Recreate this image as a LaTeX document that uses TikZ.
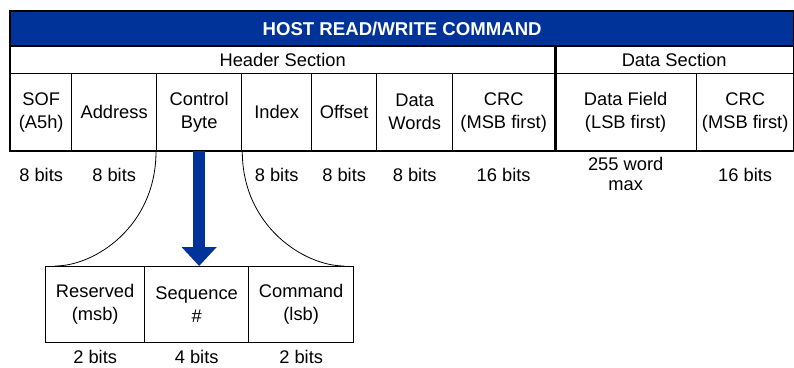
\documentclass[tikz,border=0pt]{standalone}
\usepackage{fontspec}
\setmainfont{Liberation Sans}
\usetikzlibrary{arrows.meta}
\definecolor{hblue}{HTML}{003399}
\begin{document}
\begin{tikzpicture}[x=1pt,y=-1pt,
  cell/.style={draw, line width=1.3pt, inner sep=0pt, align=center,
    font=\fontsize{18.3}{23}\selectfont, anchor=north west},
  bits/.style={inner sep=0pt, align=center, font=\fontsize{18.3}{20}\selectfont},
  curve/.style={line width=0.8pt}]
\useasboundingbox (0,0) rectangle (794,367);
% title
\node[cell, fill=hblue, text=white, font=\bfseries\fontsize{18.6}{20}\selectfont,
  minimum width=783pt, minimum height=34pt] (title) at (10,11) {HOST READ/WRITE COMMAND};
% sections
\node[cell, minimum width=544pt, minimum height=28pt] (hdr) at (10,45) {Header Section};
\node[cell, minimum width=239pt, minimum height=28pt] (dat) at (554,45) {Data Section};
% fields
\node[cell, minimum width=61pt, minimum height=77pt] (sof) at (10,73) {SOF\\(A5h)};
\node[cell, minimum width=85pt, minimum height=77pt] (addr) at (71,73) {Address};
\node[cell, minimum width=85pt, minimum height=77pt] (cb) at (156,73) {Control\\Byte};
\node[cell, minimum width=70pt, minimum height=77pt] (idx) at (241,73) {Index};
\node[cell, minimum width=65pt, minimum height=77pt] (off) at (311,73) {Offset};
\node[cell, minimum width=76pt, minimum height=77pt] (dw) at (376,73) {Data\\Words};
\node[cell, minimum width=102pt, minimum height=77pt] (crca) at (452,73) {CRC\\(MSB first)};
\node[cell, minimum width=142pt, minimum height=77pt] (df) at (554,73) {Data Field\\(LSB first)};
\node[cell, minimum width=97pt, minimum height=77pt] (crcb) at (696,73) {CRC\\(MSB first)};
% frame
\draw[line width=2pt] (title.north west) rectangle (crcb.south east);
\draw[line width=2pt] (title.south west) -- (title.south east);
\draw[line width=3pt] (hdr.north east) -- (crca.south east);
% bit counts
\node[bits] (bsof) at ([yshift=-24pt]sof.south) {8 bits};
\node[bits] (baddr) at ([yshift=-24pt]addr.south) {8 bits};
\node[bits] (bidx) at ([yshift=-24pt]idx.south) {8 bits};
\node[bits] (boff) at ([yshift=-24pt]off.south) {8 bits};
\node[bits] (bdw) at ([yshift=-24pt]dw.south) {8 bits};
\node[bits] (bcrca) at ([yshift=-24pt]crca.south) {16 bits};
\node[bits] (bdf) at ([yshift=-23pt]df.south) {255 word\\max};
\node[bits] (bcrcb) at ([yshift=-24pt]crcb.south) {16 bits};
% control byte breakdown
\node[cell, minimum width=99pt, minimum height=76pt] (res) at (45,266) {Reserved\\(msb)};
\node[cell, minimum width=104pt, minimum height=76pt] (seq) at (144,266) {Sequence\\\#};
\node[cell, minimum width=105pt, minimum height=76pt] (cmd) at (248,266) {Command\\(lsb)};
\node[bits] (bres) at ([yshift=-14pt]res.south) {2 bits};
\node[bits] (bseq) at ([yshift=-14pt]seq.south) {4 bits};
\node[bits] (bcmd) at ([yshift=-14pt]cmd.south) {2 bits};
\coordinate (lend) at ([xshift=10pt]res.north west);
\coordinate (rend) at ([xshift=-10pt]cmd.north east);
\draw[curve] (cb.south west) .. controls ([yshift=-75pt]cb.south west) and ([xshift=40pt]lend) .. (lend);
\draw[curve] (cb.south east) .. controls ([yshift=-75pt]cb.south east) and ([xshift=-40pt]rend) .. (rend);
\draw[hblue, line width=12pt, -{Triangle[width=34pt,length=19pt]}] (cb.south) -- (cb.south |- seq.north);
\end{tikzpicture}
\end{document}
